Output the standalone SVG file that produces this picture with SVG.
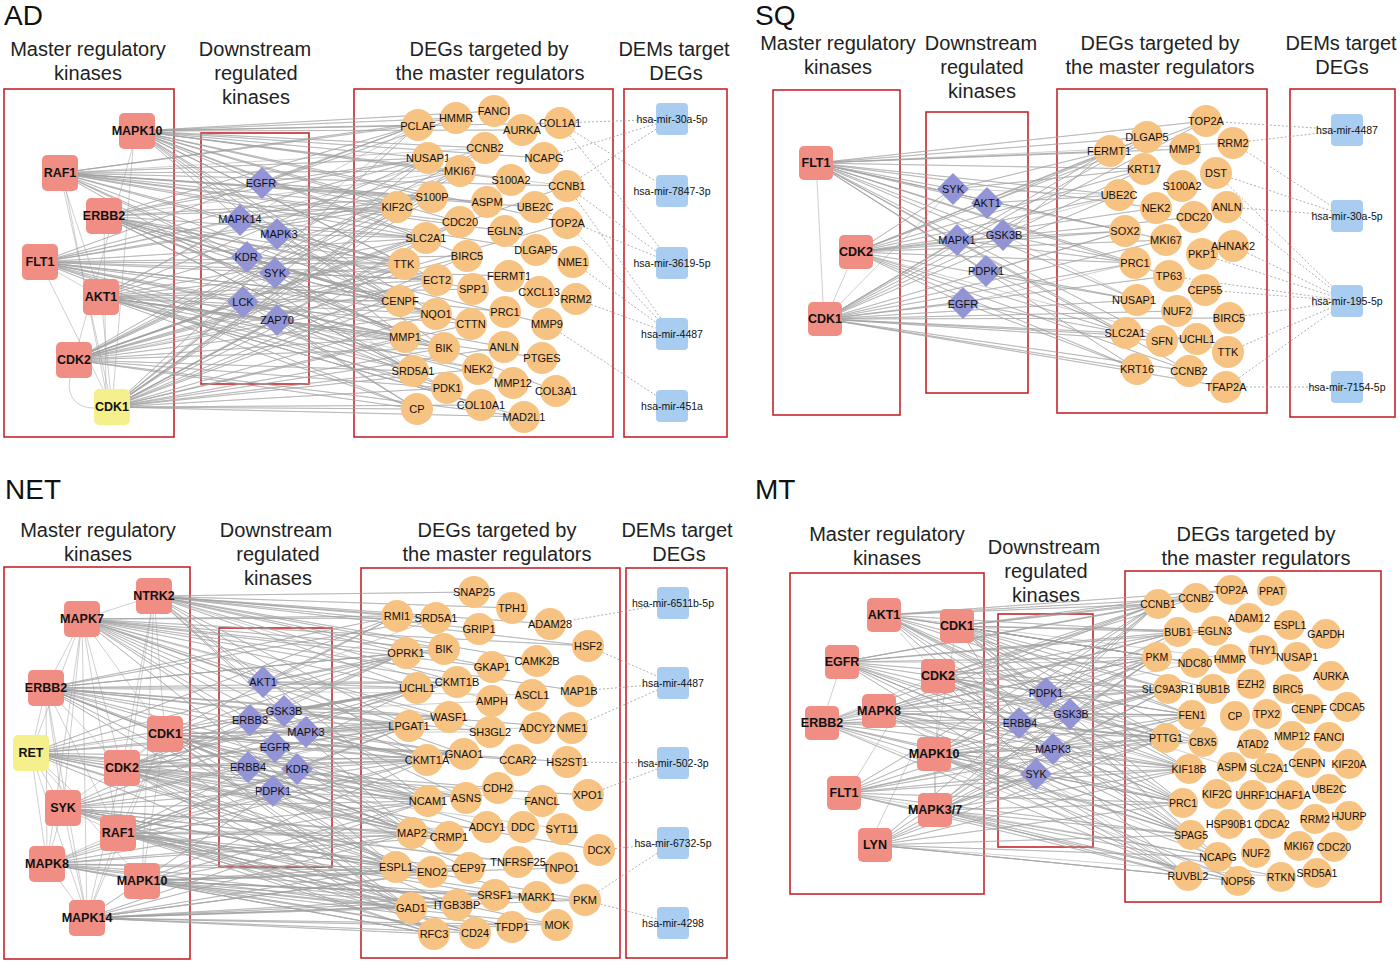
<svg xmlns="http://www.w3.org/2000/svg" xmlns:xlink="http://www.w3.org/1999/xlink" width="1400" height="963" viewBox="0 0 1400 963">
<style>
.bg{fill:#ffffff}
.e{fill:none;stroke:#a0a0a0;stroke-width:0.6;stroke-opacity:0.85;stroke-linejoin:round}
.dsh{fill:none;stroke:#9a9a9a;stroke-width:0.8;stroke-dasharray:2 2}
.box{fill:none;stroke:#c4262c;stroke-width:1.6}
.mk{fill:#f08e84}
.yl{fill:#f5ef8c}
.dk{fill:#9394d6}
.dg{fill:#f7c382}
.dm{fill:#a9cdf0}
.t{font-family:"Liberation Sans",Arial,sans-serif;text-anchor:middle;dominant-baseline:central;fill:#111}
.b{font-weight:bold;font-size:12.5px}
.s{font-size:11px}
.m{font-size:10.5px}
.h{font-family:"Liberation Sans",Arial,sans-serif;font-size:20px;text-anchor:middle;fill:#222}
.ti{font-family:"Liberation Sans",Arial,sans-serif;font-size:28px;fill:#111}
</style>
<defs>
<rect id="mk" x="-18" y="-18" width="36" height="36" rx="5"/>
<rect id="mk2" x="-17" y="-17" width="34" height="34" rx="5"/>
<polygon id="dia" points="0,-16 16,0 0,16 -16,0"/>
<rect id="dm" x="-16" y="-16" width="32" height="32" rx="4"/>
</defs>
<rect class="bg" x="0" y="0" width="1400" height="963"/>

<!-- ===================== AD ===================== -->
<g id="panel-ad">
<text class="ti" x="4" y="25">AD</text>
<text class="h" x="88" y="56">Master regulatory</text>
<text class="h" x="88" y="80">kinases</text>
<text class="h" x="255" y="56">Downstream</text>
<text class="h" x="256" y="80">regulated</text>
<text class="h" x="256" y="104">kinases</text>
<text class="h" x="489" y="56">DEGs targeted by</text>
<text class="h" x="490" y="80">the master regulators</text>
<text class="h" x="674" y="56">DEMs target</text>
<text class="h" x="676" y="80">DEGs</text>
<rect class="box" x="4" y="89" width="170" height="348"/>
<rect class="box" x="201" y="133" width="108" height="251"/>
<rect class="box" x="354" y="89" width="259" height="348"/>
<rect class="box" x="624" y="89" width="103" height="348"/>

<g id="ad-edges">
<path class="e" d="M60,173 101,297M60,173 112,407M66,190 106,392M40,262 101,297M40,262 112,407M133,149 112,407M104,216 106,407M101,297 112,407M137,131 74,360M70,378C66,400 80,408 94,408"/>
<path class="e" d="M137,131 418,125 137,131 456,118 137,131 494,111 137,131 428,158 137,131 560,123 137,131 485,148 137,131 544,158 137,131 460,171 137,131 511,180 137,131 397,207 137,131 432,197 137,131 426,238 137,131 404,264 137,131 460,222 137,131 467,256 137,131 437,280 137,131 400,301 137,131 436,314 137,131 567,223 137,131 522,130 137,131 262,183 137,131 240,220 137,131 405,337 137,131 444,348 137,131 567,186"/>
<path class="e" d="M60,173 418,125 60,173 456,118 60,173 428,158 60,173 460,171 60,173 397,207 60,173 432,197 60,173 460,222 60,173 426,238 60,173 404,264 60,173 487,202 60,173 505,231 60,173 400,301 60,173 405,337 60,173 413,371 60,173 567,186 60,173 277,234 60,173 247,257 60,173 535,207 60,173 536,250 60,173 485,148"/>
<path class="e" d="M104,216 418,125 104,216 428,158 104,216 397,207 104,216 432,197 104,216 404,264 104,216 437,280 104,216 426,238 104,216 473,289 104,216 400,301 104,216 436,314 104,216 471,324 104,216 405,337 104,216 444,348 104,216 413,371 104,216 447,388 104,216 262,183 104,216 275,273 104,216 547,324 104,216 556,391 104,216 460,171"/>
<path class="e" d="M40,262 418,125 40,262 428,158 40,262 460,171 40,262 397,207 40,262 432,197 40,262 426,238 40,262 404,264 40,262 437,280 40,262 400,301 40,262 436,314 40,262 405,337 40,262 413,371 40,262 417,409 40,262 467,256 40,262 509,276 40,262 505,312 40,262 504,347 40,262 513,383 40,262 481,405 40,262 243,302 40,262 240,220"/>
<path class="e" d="M101,297 397,207 101,297 404,264 101,297 426,238 101,297 437,280 101,297 400,301 101,297 436,314 101,297 405,337 101,297 444,348 101,297 413,371 101,297 447,388 101,297 417,409 101,297 481,405 101,297 473,289 101,297 471,324 101,297 478,369 101,297 542,358 101,297 524,417 101,297 277,320 101,297 240,220 101,297 428,158 101,297 418,125"/>
<path class="e" d="M74,360 428,158 74,360 397,207 74,360 404,264 74,360 400,301 74,360 405,337 74,360 413,371 74,360 417,409 74,360 447,388 74,360 444,348 74,360 436,314 74,360 437,280 74,360 426,238 74,360 432,197 74,360 460,171 74,360 485,148 74,360 460,222 74,360 467,256 74,360 567,223 74,360 567,186 74,360 524,417 74,360 243,302 74,360 277,320"/>
<path class="e" d="M112,407 417,409 112,407 447,388 112,407 413,371 112,407 405,337 112,407 444,348 112,407 400,301 112,407 436,314 112,407 404,264 112,407 437,280 112,407 426,238 112,407 397,207 112,407 432,197 112,407 428,158 112,407 418,125 112,407 485,148 112,407 460,171 112,407 460,222 112,407 467,256 112,407 481,405 112,407 524,417 112,407 478,369 112,407 504,347 112,407 471,324 112,407 277,320 112,407 243,302 112,407 275,273"/>
<path class="e" d="M262,183 418,125 262,183 428,158 262,183 397,207 262,183 432,197 262,183 456,118 262,183 487,202M240,220 397,207 240,220 426,238 240,220 404,264 240,220 432,197 240,220 400,301 240,220 485,148M277,234 404,264 277,234 426,238 277,234 437,280 277,234 400,301 277,234 460,171M247,257 400,301 247,257 436,314 247,257 405,337 247,257 404,264 247,257 418,125M275,273 437,280 275,273 436,314 275,273 471,324 275,273 413,371M243,302 405,337 243,302 444,348 243,302 413,371 243,302 417,409 243,302 400,301M277,320 405,337 277,320 444,348 277,320 417,409 277,320 447,388 277,320 478,369"/>
<path class="dsh" d="M560,123 672,119M544,158 672,119M567,186 672,119M560,123 672,191M560,123 672,263M567,186 672,263M535,207 672,263M567,223 672,334M573,262 672,334M576,299 672,334M567,186 672,334M547,324 672,406"/>
</g>

<g id="ad-k-MAPK10"><use href="#mk" x="137" y="131" class="mk"/><text class="t b" x="137" y="131">MAPK10</text></g>
<g id="ad-k-RAF1"><use href="#mk" x="60" y="173" class="mk"/><text class="t b" x="60" y="173">RAF1</text></g>
<g id="ad-k-ERBB2"><use href="#mk" x="104" y="216" class="mk"/><text class="t b" x="104" y="216">ERBB2</text></g>
<g id="ad-k-FLT1"><use href="#mk" x="40" y="262" class="mk"/><text class="t b" x="40" y="262">FLT1</text></g>
<g id="ad-k-AKT1"><use href="#mk" x="101" y="297" class="mk"/><text class="t b" x="101" y="297">AKT1</text></g>
<g id="ad-k-CDK2"><use href="#mk" x="74" y="360" class="mk"/><text class="t b" x="74" y="360">CDK2</text></g>
<g id="ad-k-CDK1"><use href="#mk" x="112" y="407" class="yl"/><text class="t b" x="112" y="407">CDK1</text></g>

<g id="ad-d-EGFR"><use href="#dia" x="262" y="183" class="dk"/><text class="t s" x="261" y="183">EGFR</text></g>
<g id="ad-d-MAPK14"><use href="#dia" x="240" y="220" class="dk"/><text class="t s" x="240" y="219">MAPK14</text></g>
<g id="ad-d-MAPK3"><use href="#dia" x="277" y="234" class="dk"/><text class="t s" x="279" y="234">MAPK3</text></g>
<g id="ad-d-KDR"><use href="#dia" x="247" y="257" class="dk"/><text class="t s" x="246" y="257">KDR</text></g>
<g id="ad-d-SYK"><use href="#dia" x="275" y="273" class="dk"/><text class="t s" x="275" y="273">SYK</text></g>
<g id="ad-d-LCK"><use href="#dia" x="243" y="302" class="dk"/><text class="t s" x="243" y="302">LCK</text></g>
<g id="ad-d-ZAP70"><use href="#dia" x="277" y="320" class="dk"/><text class="t s" x="277" y="320">ZAP70</text></g>

<g id="ad-g-PCLAF"><circle class="dg" cx="418" cy="125" r="16"/><text class="t s" x="418" y="126">PCLAF</text></g>
<g id="ad-g-HMMR"><circle class="dg" cx="456" cy="118" r="16"/><text class="t s" x="456" y="118">HMMR</text></g>
<g id="ad-g-FANCI"><circle class="dg" cx="494" cy="111" r="16"/><text class="t s" x="494" y="111">FANCI</text></g>
<g id="ad-g-AURKA"><circle class="dg" cx="522" cy="130" r="16"/><text class="t s" x="522" y="130">AURKA</text></g>
<g id="ad-g-COL1A1"><circle class="dg" cx="560" cy="123" r="16"/><text class="t s" x="560" y="123">COL1A1</text></g>
<g id="ad-g-CCNB2"><circle class="dg" cx="485" cy="148" r="16"/><text class="t s" x="485" y="148">CCNB2</text></g>
<g id="ad-g-NUSAP1"><circle class="dg" cx="428" cy="158" r="16"/><text class="t s" x="428" y="158">NUSAP1</text></g>
<g id="ad-g-NCAPG"><circle class="dg" cx="544" cy="158" r="16"/><text class="t s" x="544" y="158">NCAPG</text></g>
<g id="ad-g-MKI67"><circle class="dg" cx="460" cy="171" r="16"/><text class="t s" x="460" y="171">MKI67</text></g>
<g id="ad-g-S100A2"><circle class="dg" cx="511" cy="180" r="16"/><text class="t s" x="511" y="180">S100A2</text></g>
<g id="ad-g-CCNB1"><circle class="dg" cx="567" cy="186" r="16"/><text class="t s" x="567" y="186">CCNB1</text></g>
<g id="ad-g-S100P"><circle class="dg" cx="432" cy="197" r="16"/><text class="t s" x="432" y="197">S100P</text></g>
<g id="ad-g-KIF2C"><circle class="dg" cx="397" cy="207" r="16"/><text class="t s" x="397" y="207">KIF2C</text></g>
<g id="ad-g-ASPM"><circle class="dg" cx="487" cy="202" r="16"/><text class="t s" x="487" y="202">ASPM</text></g>
<g id="ad-g-UBE2C"><circle class="dg" cx="535" cy="207" r="16"/><text class="t s" x="535" y="207">UBE2C</text></g>
<g id="ad-g-CDC20"><circle class="dg" cx="460" cy="222" r="16"/><text class="t s" x="460" y="222">CDC20</text></g>
<g id="ad-g-TOP2A"><circle class="dg" cx="567" cy="223" r="16"/><text class="t s" x="567" y="223">TOP2A</text></g>
<g id="ad-g-EGLN3"><circle class="dg" cx="505" cy="231" r="16"/><text class="t s" x="505" y="231">EGLN3</text></g>
<g id="ad-g-SLC2A1"><circle class="dg" cx="426" cy="238" r="16"/><text class="t s" x="426" y="238">SLC2A1</text></g>
<g id="ad-g-DLGAP5"><circle class="dg" cx="536" cy="250" r="16"/><text class="t s" x="536" y="250">DLGAP5</text></g>
<g id="ad-g-BIRC5"><circle class="dg" cx="467" cy="256" r="16"/><text class="t s" x="467" y="256">BIRC5</text></g>
<g id="ad-g-NME1"><circle class="dg" cx="573" cy="262" r="16"/><text class="t s" x="573" y="262">NME1</text></g>
<g id="ad-g-TTK"><circle class="dg" cx="404" cy="264" r="16"/><text class="t s" x="404" y="264">TTK</text></g>
<g id="ad-g-ECT2"><circle class="dg" cx="437" cy="280" r="16"/><text class="t s" x="437" y="280">ECT2</text></g>
<g id="ad-g-FERMT1"><circle class="dg" cx="509" cy="276" r="16"/><text class="t s" x="509" y="276">FERMT1</text></g>
<g id="ad-g-SPP1"><circle class="dg" cx="473" cy="289" r="16"/><text class="t s" x="473" y="289">SPP1</text></g>
<g id="ad-g-CXCL13"><circle class="dg" cx="539" cy="292" r="16"/><text class="t s" x="539" y="292">CXCL13</text></g>
<g id="ad-g-RRM2"><circle class="dg" cx="576" cy="299" r="16"/><text class="t s" x="576" y="299">RRM2</text></g>
<g id="ad-g-CENPF"><circle class="dg" cx="400" cy="301" r="16"/><text class="t s" x="400" y="301">CENPF</text></g>
<g id="ad-g-NQO1"><circle class="dg" cx="436" cy="314" r="16"/><text class="t s" x="436" y="314">NQO1</text></g>
<g id="ad-g-PRC1"><circle class="dg" cx="505" cy="312" r="16"/><text class="t s" x="505" y="312">PRC1</text></g>
<g id="ad-g-CTTN"><circle class="dg" cx="471" cy="324" r="16"/><text class="t s" x="471" y="324">CTTN</text></g>
<g id="ad-g-MMP9"><circle class="dg" cx="547" cy="324" r="16"/><text class="t s" x="547" y="324">MMP9</text></g>
<g id="ad-g-MMP1"><circle class="dg" cx="405" cy="337" r="16"/><text class="t s" x="405" y="337">MMP1</text></g>
<g id="ad-g-BIK"><circle class="dg" cx="444" cy="348" r="16"/><text class="t s" x="444" y="348">BIK</text></g>
<g id="ad-g-ANLN"><circle class="dg" cx="504" cy="347" r="16"/><text class="t s" x="504" y="347">ANLN</text></g>
<g id="ad-g-PTGES"><circle class="dg" cx="542" cy="358" r="16"/><text class="t s" x="542" y="358">PTGES</text></g>
<g id="ad-g-SRD5A1"><circle class="dg" cx="413" cy="371" r="16"/><text class="t s" x="413" y="371">SRD5A1</text></g>
<g id="ad-g-NEK2"><circle class="dg" cx="478" cy="369" r="16"/><text class="t s" x="478" y="369">NEK2</text></g>
<g id="ad-g-PDK1"><circle class="dg" cx="447" cy="388" r="16"/><text class="t s" x="447" y="388">PDK1</text></g>
<g id="ad-g-MMP12"><circle class="dg" cx="513" cy="383" r="16"/><text class="t s" x="513" y="383">MMP12</text></g>
<g id="ad-g-COL3A1"><circle class="dg" cx="556" cy="391" r="16"/><text class="t s" x="556" y="391">COL3A1</text></g>
<g id="ad-g-CP"><circle class="dg" cx="417" cy="409" r="16"/><text class="t s" x="417" y="409">CP</text></g>
<g id="ad-g-COL10A1"><circle class="dg" cx="481" cy="405" r="16"/><text class="t s" x="481" y="405">COL10A1</text></g>
<g id="ad-g-MAD2L1"><circle class="dg" cx="524" cy="417" r="16"/><text class="t s" x="524" y="417">MAD2L1</text></g>

<g id="ad-m-30a-5p"><use href="#dm" x="672" y="119" class="dm"/><text class="t m" x="672" y="119">hsa-mir-30a-5p</text></g>
<g id="ad-m-7847-3p"><use href="#dm" x="672" y="191" class="dm"/><text class="t m" x="672" y="191">hsa-mir-7847-3p</text></g>
<g id="ad-m-3619-5p"><use href="#dm" x="672" y="263" class="dm"/><text class="t m" x="672" y="263">hsa-mir-3619-5p</text></g>
<g id="ad-m-4487"><use href="#dm" x="672" y="334" class="dm"/><text class="t m" x="672" y="334">hsa-mir-4487</text></g>
<g id="ad-m-451a"><use href="#dm" x="672" y="406" class="dm"/><text class="t m" x="672" y="406">hsa-mir-451a</text></g>
</g>

<!-- ===================== SQ ===================== -->
<g id="panel-sq">
<text class="ti" x="755" y="25">SQ</text>
<text class="h" x="838" y="50">Master regulatory</text>
<text class="h" x="838" y="74">kinases</text>
<text class="h" x="981" y="50">Downstream</text>
<text class="h" x="982" y="74">regulated</text>
<text class="h" x="982" y="98">kinases</text>
<text class="h" x="1160" y="50">DEGs targeted by</text>
<text class="h" x="1160" y="74">the master regulators</text>
<text class="h" x="1341" y="50">DEMs target</text>
<text class="h" x="1342" y="74">DEGs</text>
<rect class="box" x="773" y="90" width="127" height="325"/>
<rect class="box" x="926" y="112" width="102" height="281"/>
<rect class="box" x="1057" y="89" width="210" height="324"/>
<rect class="box" x="1290" y="89" width="105" height="328"/>

<g id="sq-edges">
<path class="e" d="M817,180 823,302M847,270 833,302"/>
<path class="e" d="M816,163 1206,121 816,163 1147,137 816,163 1109,151 816,163 1185,149 816,163 1144,169 816,163 1119,195 816,163 1125,231 816,163 1156,208 816,163 1135,263 816,163 1166,240 816,163 1137,300 816,163 1125,333 816,163 1169,276 816,163 1137,369 816,163 1189,371 816,163 1162,341 816,163 987,203 816,163 953,189 816,163 1003,235 816,163 986,271 816,163 1233,143"/>
<path class="e" d="M856,252 1109,151 856,252 1147,137 856,252 1144,169 856,252 1119,195 856,252 1125,231 856,252 1135,263 856,252 1137,300 856,252 1125,333 856,252 1137,369 856,252 1166,240 856,252 1156,208 856,252 1194,217 856,252 1206,121 856,252 953,189 856,252 957,240 856,252 963,303 856,252 1189,371 856,252 1228,352"/>
<path class="e" d="M825,319 1109,151 825,319 1144,169 825,319 1119,195 825,319 1125,231 825,319 1135,263 825,319 1137,300 825,319 1125,333 825,319 1137,369 825,319 1189,371 825,319 1162,341 825,319 1226,387 825,319 1197,339 825,319 1177,311 825,319 1169,276 825,319 1229,318 825,319 1166,240 825,319 1147,137 825,319 1206,121 825,319 957,240 825,319 963,303 825,319 953,189"/>
<path class="e" d="M953,189 1109,151 953,189 1144,169 953,189 1119,195M987,203 1147,137 987,203 1119,195 987,203 1125,231M957,240 1125,231 957,240 1135,263 957,240 1119,195M1003,235 1109,151 1003,235 1135,263 1003,235 1137,300M986,271 1125,333 986,271 1137,300 986,271 1125,231M963,303 1125,333 963,303 1137,369 963,303 1135,263"/>
<path class="dsh" d="M1206,121 1347,130M1233,143 1347,130M1233,143 1347,216M1216,173 1347,216M1227,207 1347,216M1216,173 1347,301M1227,207 1347,301M1233,246 1347,301M1169,276 1347,301M1205,290 1347,301M1229,318 1347,301M1228,352 1347,301M1226,387 1347,301M1202,254 1347,301M1226,387 1347,387"/>
</g>

<g id="sq-k-FLT1"><use href="#mk2" x="816" y="163" class="mk"/><text class="t b" x="816" y="163">FLT1</text></g>
<g id="sq-k-CDK2"><use href="#mk2" x="856" y="252" class="mk"/><text class="t b" x="856" y="252">CDK2</text></g>
<g id="sq-k-CDK1"><use href="#mk2" x="825" y="319" class="mk"/><text class="t b" x="825" y="319">CDK1</text></g>

<g id="sq-d-SYK"><use href="#dia" x="953" y="189" class="dk"/><text class="t s" x="953" y="189">SYK</text></g>
<g id="sq-d-AKT1"><use href="#dia" x="987" y="203" class="dk"/><text class="t s" x="987" y="203">AKT1</text></g>
<g id="sq-d-MAPK1"><use href="#dia" x="957" y="240" class="dk"/><text class="t s" x="957" y="240">MAPK1</text></g>
<g id="sq-d-GSK3B"><use href="#dia" x="1003" y="235" class="dk"/><text class="t s" x="1004" y="235">GSK3B</text></g>
<g id="sq-d-PDPK1"><use href="#dia" x="986" y="271" class="dk"/><text class="t s" x="986" y="271">PDPK1</text></g>
<g id="sq-d-EGFR"><use href="#dia" x="963" y="303" class="dk"/><text class="t s" x="963" y="304">EGFR</text></g>

<g id="sq-g-TOP2A"><circle class="dg" cx="1206" cy="121" r="16"/><text class="t s" x="1206" y="121">TOP2A</text></g>
<g id="sq-g-DLGAP5"><circle class="dg" cx="1147" cy="137" r="16"/><text class="t s" x="1147" y="137">DLGAP5</text></g>
<g id="sq-g-RRM2"><circle class="dg" cx="1233" cy="143" r="16"/><text class="t s" x="1233" y="143">RRM2</text></g>
<g id="sq-g-MMP1"><circle class="dg" cx="1185" cy="149" r="16"/><text class="t s" x="1185" y="149">MMP1</text></g>
<g id="sq-g-FERMT1"><circle class="dg" cx="1110" cy="151" r="16"/><text class="t s" x="1109" y="151">FERMT1</text></g>
<g id="sq-g-KRT17"><circle class="dg" cx="1144" cy="169" r="16"/><text class="t s" x="1144" y="169">KRT17</text></g>
<g id="sq-g-DST"><circle class="dg" cx="1216" cy="173" r="16"/><text class="t s" x="1216" y="173">DST</text></g>
<g id="sq-g-S100A2"><circle class="dg" cx="1182" cy="186" r="16"/><text class="t s" x="1182" y="186">S100A2</text></g>
<g id="sq-g-UBE2C"><circle class="dg" cx="1119" cy="195" r="16"/><text class="t s" x="1119" y="195">UBE2C</text></g>
<g id="sq-g-NEK2"><circle class="dg" cx="1156" cy="208" r="16"/><text class="t s" x="1156" y="208">NEK2</text></g>
<g id="sq-g-ANLN"><circle class="dg" cx="1227" cy="207" r="16"/><text class="t s" x="1227" y="207">ANLN</text></g>
<g id="sq-g-CDC20"><circle class="dg" cx="1194" cy="217" r="16"/><text class="t s" x="1194" y="217">CDC20</text></g>
<g id="sq-g-SOX2"><circle class="dg" cx="1125" cy="231" r="16"/><text class="t s" x="1125" y="231">SOX2</text></g>
<g id="sq-g-MKI67"><circle class="dg" cx="1166" cy="240" r="16"/><text class="t s" x="1166" y="240">MKI67</text></g>
<g id="sq-g-PKP1"><circle class="dg" cx="1202" cy="254" r="16"/><text class="t s" x="1202" y="254">PKP1</text></g>
<g id="sq-g-AHNAK2"><circle class="dg" cx="1233" cy="246" r="16"/><text class="t s" x="1233" y="246">AHNAK2</text></g>
<g id="sq-g-PRC1"><circle class="dg" cx="1135" cy="263" r="16"/><text class="t s" x="1135" y="263">PRC1</text></g>
<g id="sq-g-TP63"><circle class="dg" cx="1169" cy="276" r="16"/><text class="t s" x="1169" y="276">TP63</text></g>
<g id="sq-g-CEP55"><circle class="dg" cx="1205" cy="290" r="16"/><text class="t s" x="1205" y="290">CEP55</text></g>
<g id="sq-g-NUSAP1"><circle class="dg" cx="1137" cy="300" r="16"/><text class="t s" x="1134" y="300">NUSAP1</text></g>
<g id="sq-g-NUF2"><circle class="dg" cx="1177" cy="311" r="16"/><text class="t s" x="1177" y="311">NUF2</text></g>
<g id="sq-g-BIRC5"><circle class="dg" cx="1229" cy="318" r="16"/><text class="t s" x="1229" y="318">BIRC5</text></g>
<g id="sq-g-SLC2A1"><circle class="dg" cx="1126" cy="333" r="16"/><text class="t s" x="1125" y="333">SLC2A1</text></g>
<g id="sq-g-SFN"><circle class="dg" cx="1162" cy="341" r="16"/><text class="t s" x="1162" y="341">SFN</text></g>
<g id="sq-g-UCHL1"><circle class="dg" cx="1197" cy="339" r="16"/><text class="t s" x="1197" y="339">UCHL1</text></g>
<g id="sq-g-TTK"><circle class="dg" cx="1228" cy="352" r="16"/><text class="t s" x="1228" y="352">TTK</text></g>
<g id="sq-g-KRT16"><circle class="dg" cx="1137" cy="369" r="16"/><text class="t s" x="1137" y="369">KRT16</text></g>
<g id="sq-g-CCNB2"><circle class="dg" cx="1189" cy="371" r="16"/><text class="t s" x="1189" y="371">CCNB2</text></g>
<g id="sq-g-TFAP2A"><circle class="dg" cx="1226" cy="387" r="16"/><text class="t s" x="1226" y="387">TFAP2A</text></g>

<g id="sq-m-4487"><use href="#dm" x="1347" y="130" class="dm"/><text class="t m" x="1347" y="130">hsa-mir-4487</text></g>
<g id="sq-m-30a-5p"><use href="#dm" x="1347" y="216" class="dm"/><text class="t m" x="1347" y="216">hsa-mir-30a-5p</text></g>
<g id="sq-m-195-5p"><use href="#dm" x="1347" y="301" class="dm"/><text class="t m" x="1347" y="301">hsa-mir-195-5p</text></g>
<g id="sq-m-7154-5p"><use href="#dm" x="1347" y="387" class="dm"/><text class="t m" x="1347" y="387">hsa-mir-7154-5p</text></g>
</g>

<!-- ===================== NET ===================== -->
<g id="panel-net">
<text class="ti" x="5" y="499">NET</text>
<text class="h" x="98" y="537">Master regulatory</text>
<text class="h" x="98" y="561">kinases</text>
<text class="h" x="276" y="537">Downstream</text>
<text class="h" x="278" y="561">regulated</text>
<text class="h" x="278" y="585">kinases</text>
<text class="h" x="497" y="537">DEGs targeted by</text>
<text class="h" x="497" y="561">the master regulators</text>
<text class="h" x="677" y="537">DEMs target</text>
<text class="h" x="679" y="561">DEGs</text>
<rect class="box" x="4" y="567" width="186" height="392"/>
<rect class="box" x="219" y="628" width="113" height="239"/>
<rect class="box" x="361" y="568" width="259" height="390"/>
<rect class="box" x="626" y="568" width="101" height="390"/>

<g id="net-edges">
<path class="e" d="M154,596 82,619M154,596 165,734M154,596 122,768M154,596 118,833M154,596 142,881M82,619 46,688M82,619 31,753M82,619 122,768M82,619 63,808M82,619 47,864M82,619 87,918M82,619 118,833M82,619 165,734M46,688 31,753M46,688 63,808M46,688 47,864M46,688 165,734M46,688 122,768M46,688 87,918M46,688 118,833M31,753 63,808M31,753 47,864M31,753 87,918M31,753 122,768M31,753 118,833M31,753 142,881M31,753 165,734M63,808 47,864M63,808 87,918M63,808 118,833M63,808 165,734M122,768 165,734M122,768 87,918M118,833 87,918M118,833 47,864M47,864 87,918M142,881 87,918M165,734 87,918M165,734 118,833M142,881 165,734M47,864 142,881"/>
<path class="e" d="M154,596 474,592 154,596 397,616 154,596 436,618 154,596 479,629 154,596 512,608 154,596 406,653 154,596 444,649 154,596 417,688 154,596 492,667 154,596 588,646 154,596 537,661 154,596 409,726 154,596 427,760 154,596 428,801 154,596 412,833 154,596 263,682 154,596 284,711 154,596 550,624 154,596 457,682 154,596 492,701"/>
<path class="e" d="M82,619 397,616 82,619 436,618 82,619 406,653 82,619 444,649 82,619 417,688 82,619 457,682 82,619 409,726 82,619 449,717 82,619 427,760 82,619 464,754 82,619 428,801 82,619 466,798 82,619 412,833 82,619 396,867 82,619 250,720 82,619 263,682 82,619 588,646 82,619 579,691 82,619 492,667 82,619 490,732"/>
<path class="e" d="M46,688 397,616 46,688 406,653 46,688 417,688 46,688 409,726 46,688 427,760 46,688 428,801 46,688 412,833 46,688 396,867 46,688 411,908 46,688 436,618 46,688 444,649 46,688 457,682 46,688 449,717 46,688 490,732 46,688 464,754 46,688 449,837 46,688 275,747 46,688 248,767 46,688 572,728 46,688 532,695"/>
<path class="e" d="M165,734 397,616 165,734 406,653 165,734 417,688 165,734 409,726 165,734 427,760 165,734 428,801 165,734 412,833 165,734 396,867 165,734 411,908 165,734 434,934 165,734 457,682 165,734 464,754 165,734 466,798 165,734 487,827 165,734 469,868 165,734 306,732 165,734 297,769 165,734 518,760 165,734 567,762 165,734 537,728"/>
<path class="e" d="M31,753 417,688 31,753 409,726 31,753 427,760 31,753 428,801 31,753 412,833 31,753 396,867 31,753 411,908 31,753 406,653 31,753 397,616 31,753 449,837 31,753 432,872 31,753 449,717 31,753 248,767 31,753 273,791 31,753 498,788 31,753 542,801"/>
<path class="e" d="M122,768 417,688 122,768 409,726 122,768 427,760 122,768 428,801 122,768 412,833 122,768 396,867 122,768 411,908 122,768 434,934 122,768 406,653 122,768 457,682 122,768 464,754 122,768 466,798 122,768 449,837 122,768 432,872 122,768 457,905 122,768 275,747 122,768 284,711 122,768 588,795 122,768 599,850 122,768 562,829"/>
<path class="e" d="M63,808 409,726 63,808 427,760 63,808 428,801 63,808 412,833 63,808 396,867 63,808 411,908 63,808 434,934 63,808 417,688 63,808 406,653 63,808 449,837 63,808 432,872 63,808 457,905 63,808 475,933 63,808 273,791 63,808 248,767 63,808 585,900 63,808 561,868 63,808 518,862"/>
<path class="e" d="M118,833 427,760 118,833 428,801 118,833 412,833 118,833 396,867 118,833 411,908 118,833 434,934 118,833 409,726 118,833 417,688 118,833 449,837 118,833 432,872 118,833 469,868 118,833 457,905 118,833 495,895 118,833 475,933 118,833 297,769 118,833 273,791 118,833 537,897 118,833 557,925 118,833 512,927 118,833 523,827"/>
<path class="e" d="M47,864 428,801 47,864 412,833 47,864 396,867 47,864 411,908 47,864 434,934 47,864 427,760 47,864 409,726 47,864 449,837 47,864 432,872 47,864 457,905 47,864 475,933 47,864 495,895 47,864 273,791"/>
<path class="e" d="M142,881 412,833 142,881 396,867 142,881 411,908 142,881 434,934 142,881 428,801 142,881 427,760 142,881 432,872 142,881 469,868 142,881 457,905 142,881 495,895 142,881 475,933 142,881 512,927 142,881 537,897 142,881 557,925 142,881 585,900 142,881 561,868 142,881 273,791"/>
<path class="e" d="M87,918 396,867 87,918 411,908 87,918 434,934 87,918 412,833 87,918 428,801 87,918 432,872 87,918 457,905 87,918 475,933 87,918 512,927 87,918 495,895 87,918 557,925 87,918 585,900 87,918 537,897 87,918 469,868 87,918 273,791"/>
<path class="e" d="M263,682 397,616 263,682 406,653 263,682 417,688 263,682 457,682 263,682 444,649 263,682 436,618M284,711 417,688 284,711 409,726 284,711 457,682 284,711 449,717 284,711 492,701M250,720 417,688 250,720 409,726 250,720 427,760 250,720 406,653M306,732 409,726 306,732 449,717 306,732 427,760 306,732 464,754 306,732 490,732M275,747 427,760 275,747 428,801 275,747 409,726 275,747 464,754M248,767 427,760 248,767 428,801 248,767 412,833 248,767 409,726M297,769 428,801 297,769 466,798 297,769 412,833 297,769 427,760 297,769 449,837M273,791 428,801 273,791 412,833 273,791 396,867 273,791 449,837 273,791 432,872"/>
<path class="dsh" d="M550,624 673,603M588,646 673,683M579,691 673,683M572,728 673,683M567,762 673,763M588,795 673,763M599,850 673,843M585,900 673,843M585,900 673,923"/>
</g>

<g id="net-k-NTRK2"><use href="#mk" x="154" y="596" class="mk"/><text class="t b" x="154" y="596">NTRK2</text></g>
<g id="net-k-MAPK7"><use href="#mk" x="82" y="619" class="mk"/><text class="t b" x="82" y="619">MAPK7</text></g>
<g id="net-k-ERBB2"><use href="#mk" x="46" y="688" class="mk"/><text class="t b" x="46" y="688">ERBB2</text></g>
<g id="net-k-CDK1"><use href="#mk" x="165" y="734" class="mk"/><text class="t b" x="165" y="734">CDK1</text></g>
<g id="net-k-RET"><use href="#mk" x="31" y="753" class="yl"/><text class="t b" x="31" y="753">RET</text></g>
<g id="net-k-CDK2"><use href="#mk" x="122" y="768" class="mk"/><text class="t b" x="122" y="768">CDK2</text></g>
<g id="net-k-SYK"><use href="#mk" x="63" y="808" class="mk"/><text class="t b" x="63" y="808">SYK</text></g>
<g id="net-k-RAF1"><use href="#mk" x="118" y="833" class="mk"/><text class="t b" x="118" y="833">RAF1</text></g>
<g id="net-k-MAPK8"><use href="#mk" x="47" y="864" class="mk"/><text class="t b" x="47" y="864">MAPK8</text></g>
<g id="net-k-MAPK10"><use href="#mk" x="142" y="881" class="mk"/><text class="t b" x="142" y="881">MAPK10</text></g>
<g id="net-k-MAPK14"><use href="#mk" x="87" y="918" class="mk"/><text class="t b" x="87" y="918">MAPK14</text></g>

<g id="net-d-AKT1"><use href="#dia" x="263" y="682" class="dk"/><text class="t s" x="263" y="682">AKT1</text></g>
<g id="net-d-GSK3B"><use href="#dia" x="284" y="711" class="dk"/><text class="t s" x="284" y="711">GSK3B</text></g>
<g id="net-d-ERBB3"><use href="#dia" x="250" y="720" class="dk"/><text class="t s" x="250" y="720">ERBB3</text></g>
<g id="net-d-MAPK3"><use href="#dia" x="306" y="732" class="dk"/><text class="t s" x="306" y="732">MAPK3</text></g>
<g id="net-d-EGFR"><use href="#dia" x="275" y="747" class="dk"/><text class="t s" x="275" y="747">EGFR</text></g>
<g id="net-d-ERBB4"><use href="#dia" x="248" y="767" class="dk"/><text class="t s" x="248" y="767">ERBB4</text></g>
<g id="net-d-KDR"><use href="#dia" x="297" y="769" class="dk"/><text class="t s" x="297" y="769">KDR</text></g>
<g id="net-d-PDPK1"><use href="#dia" x="273" y="791" class="dk"/><text class="t s" x="273" y="791">PDPK1</text></g>

<g id="net-g-SNAP25"><circle class="dg" cx="474" cy="592" r="16"/><text class="t s" x="474" y="592">SNAP25</text></g>
<g id="net-g-TPH1"><circle class="dg" cx="512" cy="608" r="16"/><text class="t s" x="512" y="608">TPH1</text></g>
<g id="net-g-RMI1"><circle class="dg" cx="397" cy="616" r="16"/><text class="t s" x="397" y="616">RMI1</text></g>
<g id="net-g-SRD5A1"><circle class="dg" cx="436" cy="618" r="16"/><text class="t s" x="436" y="618">SRD5A1</text></g>
<g id="net-g-GRIP1"><circle class="dg" cx="479" cy="629" r="16"/><text class="t s" x="479" y="629">GRIP1</text></g>
<g id="net-g-ADAM28"><circle class="dg" cx="550" cy="624" r="16"/><text class="t s" x="550" y="624">ADAM28</text></g>
<g id="net-g-HSF2"><circle class="dg" cx="588" cy="646" r="16"/><text class="t s" x="588" y="646">HSF2</text></g>
<g id="net-g-OPRK1"><circle class="dg" cx="406" cy="653" r="16"/><text class="t s" x="406" y="653">OPRK1</text></g>
<g id="net-g-BIK"><circle class="dg" cx="444" cy="649" r="16"/><text class="t s" x="444" y="649">BIK</text></g>
<g id="net-g-GKAP1"><circle class="dg" cx="492" cy="667" r="16"/><text class="t s" x="492" y="667">GKAP1</text></g>
<g id="net-g-CAMK2B"><circle class="dg" cx="537" cy="661" r="16"/><text class="t s" x="537" y="661">CAMK2B</text></g>
<g id="net-g-UCHL1"><circle class="dg" cx="417" cy="688" r="16"/><text class="t s" x="417" y="688">UCHL1</text></g>
<g id="net-g-CKMT1B"><circle class="dg" cx="457" cy="682" r="16"/><text class="t s" x="457" y="682">CKMT1B</text></g>
<g id="net-g-AMPH"><circle class="dg" cx="492" cy="701" r="16"/><text class="t s" x="492" y="701">AMPH</text></g>
<g id="net-g-ASCL1"><circle class="dg" cx="532" cy="695" r="16"/><text class="t s" x="532" y="695">ASCL1</text></g>
<g id="net-g-MAP1B"><circle class="dg" cx="579" cy="691" r="16"/><text class="t s" x="579" y="691">MAP1B</text></g>
<g id="net-g-LPGAT1"><circle class="dg" cx="409" cy="726" r="16"/><text class="t s" x="409" y="726">LPGAT1</text></g>
<g id="net-g-WASF1"><circle class="dg" cx="449" cy="717" r="16"/><text class="t s" x="449" y="717">WASF1</text></g>
<g id="net-g-SH3GL2"><circle class="dg" cx="490" cy="732" r="16"/><text class="t s" x="490" y="732">SH3GL2</text></g>
<g id="net-g-ADCY2"><circle class="dg" cx="537" cy="728" r="16"/><text class="t s" x="537" y="728">ADCY2</text></g>
<g id="net-g-NME1"><circle class="dg" cx="572" cy="728" r="16"/><text class="t s" x="572" y="728">NME1</text></g>
<g id="net-g-CKMT1A"><circle class="dg" cx="427" cy="760" r="16"/><text class="t s" x="427" y="760">CKMT1A</text></g>
<g id="net-g-GNAO1"><circle class="dg" cx="464" cy="754" r="16"/><text class="t s" x="464" y="754">GNAO1</text></g>
<g id="net-g-CCAR2"><circle class="dg" cx="518" cy="760" r="16"/><text class="t s" x="518" y="760">CCAR2</text></g>
<g id="net-g-HS2ST1"><circle class="dg" cx="567" cy="762" r="16"/><text class="t s" x="567" y="762">HS2ST1</text></g>
<g id="net-g-CDH2"><circle class="dg" cx="498" cy="788" r="16"/><text class="t s" x="498" y="788">CDH2</text></g>
<g id="net-g-NCAM1"><circle class="dg" cx="428" cy="801" r="16"/><text class="t s" x="428" y="801">NCAM1</text></g>
<g id="net-g-ASNS"><circle class="dg" cx="466" cy="798" r="16"/><text class="t s" x="466" y="798">ASNS</text></g>
<g id="net-g-FANCL"><circle class="dg" cx="542" cy="801" r="16"/><text class="t s" x="542" y="801">FANCL</text></g>
<g id="net-g-XPO1"><circle class="dg" cx="588" cy="795" r="16"/><text class="t s" x="588" y="795">XPO1</text></g>
<g id="net-g-MAP2"><circle class="dg" cx="412" cy="833" r="16"/><text class="t s" x="412" y="833">MAP2</text></g>
<g id="net-g-CRMP1"><circle class="dg" cx="449" cy="837" r="16"/><text class="t s" x="449" y="837">CRMP1</text></g>
<g id="net-g-ADCY1"><circle class="dg" cx="487" cy="827" r="16"/><text class="t s" x="487" y="827">ADCY1</text></g>
<g id="net-g-DDC"><circle class="dg" cx="523" cy="827" r="16"/><text class="t s" x="523" y="827">DDC</text></g>
<g id="net-g-SYT11"><circle class="dg" cx="562" cy="829" r="16"/><text class="t s" x="562" y="829">SYT11</text></g>
<g id="net-g-DCX"><circle class="dg" cx="599" cy="850" r="16"/><text class="t s" x="599" y="850">DCX</text></g>
<g id="net-g-ESPL1"><circle class="dg" cx="396" cy="867" r="16"/><text class="t s" x="396" y="867">ESPL1</text></g>
<g id="net-g-ENO2"><circle class="dg" cx="432" cy="872" r="16"/><text class="t s" x="432" y="872">ENO2</text></g>
<g id="net-g-CEP97"><circle class="dg" cx="469" cy="868" r="16"/><text class="t s" x="469" y="868">CEP97</text></g>
<g id="net-g-TNFRSF25"><circle class="dg" cx="518" cy="862" r="16"/><text class="t s" x="518" y="862">TNFRSF25</text></g>
<g id="net-g-TNPO1"><circle class="dg" cx="561" cy="868" r="16"/><text class="t s" x="561" y="868">TNPO1</text></g>
<g id="net-g-GAD1"><circle class="dg" cx="411" cy="908" r="16"/><text class="t s" x="411" y="908">GAD1</text></g>
<g id="net-g-ITGB3BP"><circle class="dg" cx="457" cy="905" r="16"/><text class="t s" x="457" y="905">ITGB3BP</text></g>
<g id="net-g-SRSF1"><circle class="dg" cx="495" cy="895" r="16"/><text class="t s" x="495" y="895">SRSF1</text></g>
<g id="net-g-MARK1"><circle class="dg" cx="537" cy="897" r="16"/><text class="t s" x="537" y="897">MARK1</text></g>
<g id="net-g-PKM"><circle class="dg" cx="585" cy="900" r="16"/><text class="t s" x="585" y="900">PKM</text></g>
<g id="net-g-RFC3"><circle class="dg" cx="434" cy="934" r="16"/><text class="t s" x="434" y="934">RFC3</text></g>
<g id="net-g-CD24"><circle class="dg" cx="475" cy="933" r="16"/><text class="t s" x="475" y="933">CD24</text></g>
<g id="net-g-TFDP1"><circle class="dg" cx="512" cy="927" r="16"/><text class="t s" x="512" y="927">TFDP1</text></g>
<g id="net-g-MOK"><circle class="dg" cx="557" cy="925" r="16"/><text class="t s" x="557" y="925">MOK</text></g>

<g id="net-m-6511b-5p"><use href="#dm" x="673" y="603" class="dm"/><text class="t m" x="673" y="603">hsa-mir-6511b-5p</text></g>
<g id="net-m-4487"><use href="#dm" x="673" y="683" class="dm"/><text class="t m" x="673" y="683">hsa-mir-4487</text></g>
<g id="net-m-502-3p"><use href="#dm" x="673" y="763" class="dm"/><text class="t m" x="673" y="763">hsa-mir-502-3p</text></g>
<g id="net-m-6732-5p"><use href="#dm" x="673" y="843" class="dm"/><text class="t m" x="673" y="843">hsa-mir-6732-5p</text></g>
<g id="net-m-4298"><use href="#dm" x="673" y="923" class="dm"/><text class="t m" x="673" y="923">hsa-mir-4298</text></g>
</g>

<!-- ===================== MT ===================== -->
<g id="panel-mt">
<text class="ti" x="755" y="499">MT</text>
<text class="h" x="887" y="541">Master regulatory</text>
<text class="h" x="887" y="565">kinases</text>
<text class="h" x="1044" y="554">Downstream</text>
<text class="h" x="1046" y="578">regulated</text>
<text class="h" x="1046" y="602">kinases</text>
<text class="h" x="1256" y="541">DEGs targeted by</text>
<text class="h" x="1256" y="565">the master regulators</text>
<rect class="box" x="790" y="573" width="194" height="321"/>
<rect class="box" x="998" y="614" width="95" height="233"/>
<rect class="box" x="1125" y="571" width="256" height="331"/>

<g id="mt-edges">
<path class="e" d="M842,662 822,723M822,723 938,676M900,633 923,658M887,728 857,777M877,828 913,753M938,676 935,810M934,754 935,810M839,717 862,711M957,626 934,754"/>
<path class="e" d="M884,615 1158,604 884,615 1196,598 884,615 1178,632 884,615 1157,657 884,615 1168,689 884,615 1192,715 884,615 1166,738 884,615 1189,769 884,615 1183,803 884,615 1191,835 884,615 1195,663 884,615 1231,590 884,615 1046,693 884,615 1070,714 884,615 1188,876 884,615 1230,659"/>
<path class="e" d="M957,626 1158,604 957,626 1196,598 957,626 1178,632 957,626 1157,657 957,626 1168,689 957,626 1166,738 957,626 1189,769 957,626 1183,803 957,626 1215,631 957,626 1195,663 957,626 1213,689 957,626 1192,715 957,626 1203,742 957,626 1046,693 957,626 1019,723 957,626 1231,590 957,626 1218,857 957,626 1191,835"/>
<path class="e" d="M842,662 1158,604 842,662 1178,632 842,662 1157,657 842,662 1168,689 842,662 1192,715 842,662 1166,738 842,662 1189,769 842,662 1183,803 842,662 1191,835 842,662 1188,876 842,662 1196,598 842,662 1019,723 842,662 1053,749 842,662 1215,631 842,662 1195,663"/>
<path class="e" d="M938,676 1158,604 938,676 1157,657 938,676 1168,689 938,676 1166,738 938,676 1189,769 938,676 1183,803 938,676 1191,835 938,676 1178,632 938,676 1192,715 938,676 1203,742 938,676 1218,857 938,676 1070,714 938,676 1036,774 938,676 1196,598 938,676 1232,767"/>
<path class="e" d="M879,711 1157,657 879,711 1168,689 879,711 1166,738 879,711 1189,769 879,711 1183,803 879,711 1191,835 879,711 1188,876 879,711 1192,715 879,711 1178,632 879,711 1158,604 879,711 1046,693 879,711 1053,749 879,711 1203,742 879,711 1218,857"/>
<path class="e" d="M822,723 1158,604 822,723 1157,657 822,723 1168,689 822,723 1166,738 822,723 1189,769 822,723 1183,803 822,723 1191,835 822,723 1188,876 822,723 1192,715 822,723 1178,632 822,723 1019,723 822,723 1036,774 822,723 1238,881"/>
<path class="e" d="M934,754 1157,657 934,754 1168,689 934,754 1166,738 934,754 1189,769 934,754 1183,803 934,754 1191,835 934,754 1188,876 934,754 1192,715 934,754 1203,742 934,754 1158,604 934,754 1053,749 934,754 1036,774 934,754 1238,881 934,754 1218,857 934,754 1178,632"/>
<path class="e" d="M844,793 1168,689 844,793 1166,738 844,793 1189,769 844,793 1183,803 844,793 1191,835 844,793 1188,876 844,793 1157,657 844,793 1192,715 844,793 1238,881 844,793 1158,604 844,793 1036,774 844,793 1053,749 844,793 1218,857"/>
<path class="e" d="M935,810 1166,738 935,810 1189,769 935,810 1183,803 935,810 1191,835 935,810 1188,876 935,810 1238,881 935,810 1168,689 935,810 1157,657 935,810 1192,715 935,810 1158,604 935,810 1036,774 935,810 1218,857 935,810 1281,877 935,810 1178,632"/>
<path class="e" d="M875,845 1183,803 875,845 1191,835 875,845 1188,876 875,845 1238,881 875,845 1189,769 875,845 1166,738 875,845 1168,689 875,845 1157,657 875,845 1158,604 875,845 1036,774 875,845 1218,857 875,845 1281,877"/>
<path class="e" d="M1046,693 1158,604 1046,693 1178,632 1046,693 1157,657 1046,693 1168,689 1046,693 1195,663M1070,714 1168,689 1070,714 1192,715 1070,714 1166,738 1070,714 1157,657M1019,723 1157,657 1019,723 1168,689 1019,723 1166,738 1019,723 1189,769M1053,749 1166,738 1053,749 1189,769 1053,749 1183,803 1053,749 1192,715M1036,774 1189,769 1036,774 1183,803 1036,774 1191,835 1036,774 1188,876"/>
</g>

<g id="mt-k-AKT1"><use href="#mk2" x="884" y="615" class="mk"/><text class="t b" x="884" y="615">AKT1</text></g>
<g id="mt-k-CDK1"><use href="#mk2" x="957" y="626" class="mk"/><text class="t b" x="957" y="626">CDK1</text></g>
<g id="mt-k-EGFR"><use href="#mk2" x="842" y="662" class="mk"/><text class="t b" x="842" y="662">EGFR</text></g>
<g id="mt-k-CDK2"><use href="#mk2" x="938" y="676" class="mk"/><text class="t b" x="938" y="676">CDK2</text></g>
<g id="mt-k-MAPK8"><use href="#mk2" x="879" y="711" class="mk"/><text class="t b" x="879" y="711">MAPK8</text></g>
<g id="mt-k-ERBB2"><use href="#mk2" x="822" y="723" class="mk"/><text class="t b" x="822" y="723">ERBB2</text></g>
<g id="mt-k-MAPK10"><use href="#mk2" x="934" y="754" class="mk"/><text class="t b" x="934" y="754">MAPK10</text></g>
<g id="mt-k-FLT1"><use href="#mk2" x="844" y="793" class="mk"/><text class="t b" x="844" y="793">FLT1</text></g>
<g id="mt-k-MAPK3-7"><use href="#mk2" x="935" y="810" class="mk"/><text class="t b" x="935" y="810">MAPK3/7</text></g>
<g id="mt-k-LYN"><use href="#mk2" x="875" y="845" class="mk"/><text class="t b" x="875" y="845">LYN</text></g>

<g id="mt-d-PDPK1"><use href="#dia" x="1046" y="693" class="dk"/><text class="t m" x="1046" y="693">PDPK1</text></g>
<g id="mt-d-GSK3B"><use href="#dia" x="1070" y="714" class="dk"/><text class="t m" x="1071" y="714">GSK3B</text></g>
<g id="mt-d-ERBB4"><use href="#dia" x="1019" y="723" class="dk"/><text class="t m" x="1020" y="723">ERBB4</text></g>
<g id="mt-d-MAPK3"><use href="#dia" x="1053" y="749" class="dk"/><text class="t m" x="1053" y="749">MAPK3</text></g>
<g id="mt-d-SYK"><use href="#dia" x="1036" y="774" class="dk"/><text class="t m" x="1036" y="774">SYK</text></g>

<g id="mt-g-CCNB1"><circle class="dg" cx="1158" cy="604" r="15"/><text class="t m" x="1158" y="604">CCNB1</text></g>
<g id="mt-g-CCNB2"><circle class="dg" cx="1196" cy="598" r="15"/><text class="t m" x="1196" y="598">CCNB2</text></g>
<g id="mt-g-TOP2A"><circle class="dg" cx="1231" cy="590" r="15"/><text class="t m" x="1231" y="590">TOP2A</text></g>
<g id="mt-g-PPAT"><circle class="dg" cx="1272" cy="591" r="15"/><text class="t m" x="1272" y="591">PPAT</text></g>
<g id="mt-g-ADAM12"><circle class="dg" cx="1249" cy="618" r="15"/><text class="t m" x="1249" y="618">ADAM12</text></g>
<g id="mt-g-ESPL1"><circle class="dg" cx="1290" cy="625" r="15"/><text class="t m" x="1290" y="625">ESPL1</text></g>
<g id="mt-g-GAPDH"><circle class="dg" cx="1326" cy="634" r="15"/><text class="t m" x="1326" y="634">GAPDH</text></g>
<g id="mt-g-BUB1"><circle class="dg" cx="1178" cy="632" r="15"/><text class="t m" x="1178" y="632">BUB1</text></g>
<g id="mt-g-EGLN3"><circle class="dg" cx="1215" cy="631" r="15"/><text class="t m" x="1215" y="631">EGLN3</text></g>
<g id="mt-g-THY1"><circle class="dg" cx="1263" cy="650" r="15"/><text class="t m" x="1263" y="650">THY1</text></g>
<g id="mt-g-NUSAP1"><circle class="dg" cx="1297" cy="657" r="15"/><text class="t m" x="1297" y="657">NUSAP1</text></g>
<g id="mt-g-PKM"><circle class="dg" cx="1157" cy="657" r="15"/><text class="t m" x="1157" y="657">PKM</text></g>
<g id="mt-g-NDC80"><circle class="dg" cx="1195" cy="663" r="15"/><text class="t m" x="1195" y="663">NDC80</text></g>
<g id="mt-g-HMMR"><circle class="dg" cx="1230" cy="659" r="15"/><text class="t m" x="1230" y="659">HMMR</text></g>
<g id="mt-g-AURKA"><circle class="dg" cx="1331" cy="676" r="15"/><text class="t m" x="1331" y="676">AURKA</text></g>
<g id="mt-g-SLC9A3R1"><circle class="dg" cx="1168" cy="689" r="15"/><text class="t m" x="1168" y="689">SLC9A3R1</text></g>
<g id="mt-g-BUB1B"><circle class="dg" cx="1213" cy="689" r="15"/><text class="t m" x="1213" y="689">BUB1B</text></g>
<g id="mt-g-EZH2"><circle class="dg" cx="1251" cy="684" r="15"/><text class="t m" x="1251" y="684">EZH2</text></g>
<g id="mt-g-BIRC5"><circle class="dg" cx="1288" cy="689" r="15"/><text class="t m" x="1288" y="689">BIRC5</text></g>
<g id="mt-g-CENPF"><circle class="dg" cx="1309" cy="709" r="15"/><text class="t m" x="1309" y="709">CENPF</text></g>
<g id="mt-g-CDCA5"><circle class="dg" cx="1347" cy="707" r="15"/><text class="t m" x="1347" y="707">CDCA5</text></g>
<g id="mt-g-FEN1"><circle class="dg" cx="1192" cy="715" r="15"/><text class="t m" x="1192" y="715">FEN1</text></g>
<g id="mt-g-CP"><circle class="dg" cx="1235" cy="716" r="15"/><text class="t m" x="1235" y="716">CP</text></g>
<g id="mt-g-TPX2"><circle class="dg" cx="1267" cy="714" r="15"/><text class="t m" x="1267" y="714">TPX2</text></g>
<g id="mt-g-MMP12"><circle class="dg" cx="1292" cy="736" r="15"/><text class="t m" x="1292" y="736">MMP12</text></g>
<g id="mt-g-FANCI"><circle class="dg" cx="1329" cy="737" r="15"/><text class="t m" x="1329" y="737">FANCI</text></g>
<g id="mt-g-PTTG1"><circle class="dg" cx="1166" cy="738" r="15"/><text class="t m" x="1166" y="738">PTTG1</text></g>
<g id="mt-g-CBX5"><circle class="dg" cx="1203" cy="742" r="15"/><text class="t m" x="1203" y="742">CBX5</text></g>
<g id="mt-g-ATAD2"><circle class="dg" cx="1253" cy="744" r="15"/><text class="t m" x="1253" y="744">ATAD2</text></g>
<g id="mt-g-KIF18B"><circle class="dg" cx="1189" cy="769" r="15"/><text class="t m" x="1189" y="769">KIF18B</text></g>
<g id="mt-g-ASPM"><circle class="dg" cx="1232" cy="767" r="15"/><text class="t m" x="1232" y="767">ASPM</text></g>
<g id="mt-g-SLC2A1"><circle class="dg" cx="1269" cy="768" r="15"/><text class="t m" x="1269" y="768">SLC2A1</text></g>
<g id="mt-g-CENPN"><circle class="dg" cx="1307" cy="763" r="15"/><text class="t m" x="1307" y="763">CENPN</text></g>
<g id="mt-g-KIF20A"><circle class="dg" cx="1349" cy="764" r="15"/><text class="t m" x="1349" y="764">KIF20A</text></g>
<g id="mt-g-UBE2C"><circle class="dg" cx="1329" cy="789" r="15"/><text class="t m" x="1329" y="789">UBE2C</text></g>
<g id="mt-g-UHRF1"><circle class="dg" cx="1253" cy="795" r="15"/><text class="t m" x="1253" y="795">UHRF1</text></g>
<g id="mt-g-CHAF1A"><circle class="dg" cx="1290" cy="795" r="15"/><text class="t m" x="1290" y="795">CHAF1A</text></g>
<g id="mt-g-KIF2C"><circle class="dg" cx="1217" cy="794" r="15"/><text class="t m" x="1217" y="794">KIF2C</text></g>
<g id="mt-g-PRC1"><circle class="dg" cx="1183" cy="803" r="15"/><text class="t m" x="1183" y="803">PRC1</text></g>
<g id="mt-g-RRM2"><circle class="dg" cx="1315" cy="819" r="15"/><text class="t m" x="1315" y="819">RRM2</text></g>
<g id="mt-g-HJURP"><circle class="dg" cx="1349" cy="816" r="15"/><text class="t m" x="1349" y="816">HJURP</text></g>
<g id="mt-g-HSP90B1"><circle class="dg" cx="1229" cy="824" r="15"/><text class="t m" x="1229" y="824">HSP90B1</text></g>
<g id="mt-g-CDCA2"><circle class="dg" cx="1272" cy="824" r="15"/><text class="t m" x="1272" y="824">CDCA2</text></g>
<g id="mt-g-SPAG5"><circle class="dg" cx="1191" cy="835" r="15"/><text class="t m" x="1191" y="835">SPAG5</text></g>
<g id="mt-g-MKI67"><circle class="dg" cx="1299" cy="846" r="15"/><text class="t m" x="1299" y="846">MKI67</text></g>
<g id="mt-g-CDC20"><circle class="dg" cx="1334" cy="847" r="15"/><text class="t m" x="1334" y="847">CDC20</text></g>
<g id="mt-g-NCAPG"><circle class="dg" cx="1218" cy="857" r="15"/><text class="t m" x="1218" y="857">NCAPG</text></g>
<g id="mt-g-NUF2"><circle class="dg" cx="1256" cy="853" r="15"/><text class="t m" x="1256" y="853">NUF2</text></g>
<g id="mt-g-RUVBL2"><circle class="dg" cx="1188" cy="876" r="15"/><text class="t m" x="1188" y="876">RUVBL2</text></g>
<g id="mt-g-NOP56"><circle class="dg" cx="1238" cy="881" r="15"/><text class="t m" x="1238" y="881">NOP56</text></g>
<g id="mt-g-RTKN"><circle class="dg" cx="1281" cy="877" r="15"/><text class="t m" x="1281" y="877">RTKN</text></g>
<g id="mt-g-SRD5A1"><circle class="dg" cx="1317" cy="873" r="15"/><text class="t m" x="1317" y="873">SRD5A1</text></g>
</g>
</svg>
